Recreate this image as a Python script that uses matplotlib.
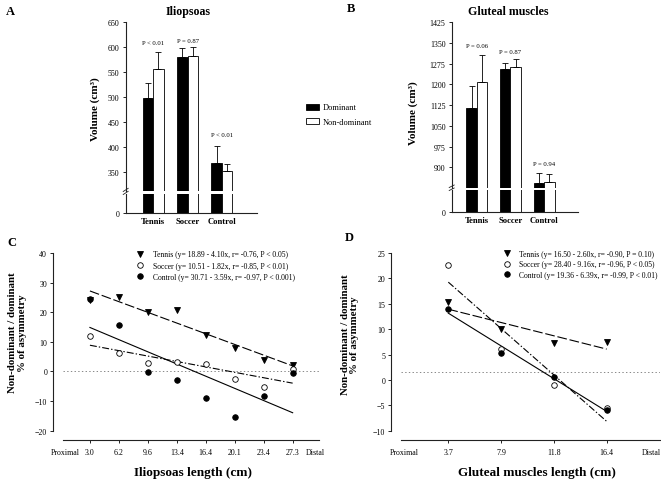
import matplotlib
matplotlib.use('Agg')
import matplotlib.pyplot as plt
import numpy as np
from matplotlib.patches import Patch
from matplotlib.lines import Line2D

plt.rcParams['font.family'] = ['Liberation Serif', 'DejaVu Serif']
plt.rcParams['lines.scale_dashes'] = False

W, H = 661, 481
def fx(px): return px / W
def fy(py): return 1 - py / H

# ---------------- data ----------------
groups = ['Tennis', 'Soccer', 'Control']
ilio_dom = [497, 581, 367]
ilio_dom_err = [30, 17, 35]
ilio_non = [556, 582, 352]
ilio_non_err = [34, 18, 14]
ilio_p = ['P < 0.01', 'P = 0.87', 'P < 0.01']
ilio_p_y = [610, 613, 425]
ilio_yticks = [350, 400, 450, 500, 550, 600, 650]

glut_dom = [1115, 1256, 843]
glut_dom_err = [78, 22, 36]
glut_non = [1208, 1262, 847]
glut_non_err = [100, 30, 29]
glut_p = ['P = 0.06', 'P = 0.87', 'P = 0.94']
glut_p_y = [1340, 1320, 912]
glut_yticks = [900, 975, 1050, 1125, 1200, 1275, 1350, 1425]

ilio_len = ['3.0', '6.2', '9.6', '13.4', '16.4', '20.1', '23.4', '27.3']
ilio_tennis = [24.0, 25.1, 20.0, 20.9, 12.2, 8.0, 4.0, 2.1]
ilio_soccer = [11.9, 6.4, 2.9, 3.2, 2.4, -2.7, -5.2, 0.75]
ilio_control = [24.4, 15.6, -0.1, -3.0, -9.1, -15.3, -8.3, -0.5]
ilio_labels = ['Tennis (y= 18.89 - 4.10x, r= -0.76, P < 0.05)',
               'Soccer (y= 10.51 - 1.82x, r= -0.85, P < 0.01)',
               'Control (y= 30.71 - 3.59x, r= -0.97, P < 0.001)']

glut_len = ['3.7', '7.9', '11.8', '16.4']
glut_tennis = [15.3, 10.0, 7.2, 7.5]
glut_soccer = [22.6, 6.1, -1.0, -5.5]
glut_control = [14.0, 5.3, 0.5, -5.9]
glut_labels = ['Tennis (y= 16.50 - 2.60x, r= -0.90, P = 0.10)',
               'Soccer (y= 28.40 - 9.16x, r= -0.96, P < 0.05)',
               'Control (y= 19.36 - 6.39x, r= -0.99, P < 0.01)']

fig = plt.figure(figsize=(W / 100, H / 100), dpi=100)

TICK_FS = 5.7
SPINE_C = '#222222'

def bar_panel(left, right, top, brk_top, brk_bot, bottom, ylim_top, ylim_bot,
              xlim, dom, dom_err, non, non_err, ptxt, py, yticks):
    axT = fig.add_axes([fx(left), fy(brk_top), fx(right) - fx(left), fy(top) - fy(brk_top)])
    axB = fig.add_axes([fx(left), fy(bottom), fx(right) - fx(left), fy(brk_bot) - fy(bottom)])
    x = np.arange(len(groups))
    w = 0.305
    for ax in (axT, axB):
        ax.bar(x - w / 2, dom, w, color='black', edgecolor='black', linewidth=0.6)
        ax.bar(x + w / 2, non, w, color='white', edgecolor='black', linewidth=0.6)
        ax.set_xlim(*xlim)
        for s in ('top', 'right'):
            ax.spines[s].set_visible(False)
        ax.spines['left'].set_color(SPINE_C)
        ax.spines['left'].set_linewidth(0.8)
        ax.tick_params(axis='y', length=2.5, width=0.6, labelsize=TICK_FS, pad=2)
    axT.errorbar(x - w / 2, dom, yerr=[np.zeros(3), dom_err], fmt='none', ecolor='black',
                 elinewidth=0.6, capsize=2.2, capthick=0.6)
    axT.errorbar(x + w / 2, non, yerr=[np.zeros(3), non_err], fmt='none', ecolor='black',
                 elinewidth=0.6, capsize=2.2, capthick=0.6)
    axT.set_ylim(*ylim_top)
    axT.set_yticks(yticks)
    axT.spines['bottom'].set_visible(False)
    axT.set_xticks([])
    for xi, t, yy in zip(x, ptxt, py):
        axT.text(xi, yy, t, ha='center', va='center', fontsize=4.8)
    axB.set_ylim(*ylim_bot)
    axB.set_yticks([0])
    axB.spines['bottom'].set_color(SPINE_C)
    axB.spines['bottom'].set_linewidth(0.8)
    axB.set_xticks(x)
    axB.set_xticklabels(groups, fontweight='bold', fontsize=6.2)
    axB.tick_params(axis='x', length=0, pad=3)
    # break marks
    for dy in (0, 3):
        fig.add_artist(Line2D([fx(left - 2.5), fx(left + 2.5)],
                              [fy(brk_bot - 0.5 + dy - 2), fy(brk_top - 1 + dy - 2)],
                              color=SPINE_C, lw=0.6))
    return axT, axB

bar_panel(125.7, 257, 23.3, 192.3, 195, 214.3, (310.2, 650), (0, 39),
          (-0.80, 3.02), ilio_dom, ilio_dom_err, ilio_non, ilio_non_err,
          ilio_p, ilio_p_y, ilio_yticks)
bar_panel(451.7, 578, 23.3, 189, 191, 213.3, (825, 1425), (0, 81),
          (-0.74, 3.0), glut_dom, glut_dom_err, glut_non, glut_non_err,
          glut_p, glut_p_y, glut_yticks)

fig.text(fx(188.3), fy(12.3), 'Iliopsoas', ha='center', va='center', fontsize=8.6, fontweight='bold')
fig.text(fx(508.3), fy(12.3), 'Gluteal muscles', ha='center', va='center', fontsize=8.6, fontweight='bold')
fig.text(fx(95), fy(109), 'Volume (cm³)', rotation=90, ha='center', va='center', fontsize=8, fontweight='bold')
fig.text(fx(413.3), fy(113), 'Volume (cm³)', rotation=90, ha='center', va='center', fontsize=8, fontweight='bold')
for lab, (px, py) in zip('ABCD', [(10, 12.3), (351, 8.5), (11.7, 243), (349, 238)]):
    fig.text(fx(px), fy(py), lab, ha='center', va='center', fontsize=9, fontweight='bold')

fig.legend(handles=[Patch(facecolor='black', edgecolor='black', linewidth=0.6, label='Dominant'),
                    Patch(facecolor='white', edgecolor='black', linewidth=0.6, label='Non-dominant')],
           loc='upper left', bbox_to_anchor=(fx(305.7), fy(104.5)), bbox_transform=fig.transFigure,
           frameon=False, fontsize=6, handlelength=1.55, handleheight=0.75, handletextpad=0.45,
           labelspacing=0.75, borderpad=0, borderaxespad=0)

def line_panel(left, right, top, bottom, xlim, ylim, yticks, labels_x, tennis, soccer, control,
               leg_labels, hline, prox_x, dist_x, leg_anchor, leg_spacing):
    ax = fig.add_axes([fx(left), fy(bottom), fx(right) - fx(left), fy(top) - fy(bottom)])
    x = np.arange(1, len(labels_x) + 1)
    ax.axhline(hline, ls=':', color='#888888', lw=0.7)
    styles = [(tennis, dict(marker='v', mfc='black', mec='black'), (0, (7, 2))),
              (soccer, dict(marker='o', mfc='white', mec='black'), (0, (5, 1.5, 1, 1.5))),
              (control, dict(marker='o', mfc='black', mec='black'), '-')]
    handles = []
    for (yv, mk, ls), lab in zip(styles, leg_labels):
        coef = np.polyfit(x, yv, 1)
        xs = np.array([x[0], x[-1]])
        ax.plot(xs, np.polyval(coef, xs), color='black', lw=0.8, ls=ls)
    for (yv, mk, ls), lab in zip(styles, leg_labels):
        h, = ax.plot(x, yv, ls='none', ms=4, mew=0.6, label=lab, **mk)
        handles.append(h)
    ax.set_xlim(*xlim)
    ax.set_ylim(*ylim)
    ax.set_yticks(yticks)
    ax.set_xticks(x)
    ax.set_xticklabels(labels_x)
    ax.set_xticks([prox_x, dist_x], ['Proximal', 'Distal'], minor=True)
    for lbl in ax.get_xticklabels(minor=True):
        lbl.set_fontweight('bold')
    ax.tick_params(axis='x', which='minor', length=0, labelsize=TICK_FS, pad=5.6)
    ax.tick_params(axis='x', which='major', length=2.5, width=0.6, labelsize=TICK_FS, pad=3)
    ax.tick_params(axis='y', length=2.5, width=0.6, labelsize=TICK_FS, pad=2)
    for s in ('top', 'right'):
        ax.spines[s].set_visible(False)
    for s in ('left', 'bottom'):
        ax.spines[s].set_position(('outward', 6.7))
        ax.spines[s].set_color(SPINE_C)
        ax.spines[s].set_linewidth(0.8)
    ax.legend(handles=handles, loc='upper left', bbox_to_anchor=leg_anchor,
              bbox_transform=fig.transFigure, frameon=False, fontsize=5.5,
              handlelength=1.0, handletextpad=1.15, labelspacing=leg_spacing,
              borderpad=0, borderaxespad=0)
    return ax

line_panel(62.7, 319, 254, 431.7, (0.06, 8.91), (-20, 40), [-20, -10, 0, 10, 20, 30, 40],
           ilio_len, ilio_tennis, ilio_soccer, ilio_control, ilio_labels, 0,
           0.16, 8.77, (fx(136.2), fy(251.5)), 0.42)
line_panel(400.7, 660, 254, 431.7, (0.098, 5.01), (-10, 25), [-10, -5, 0, 5, 10, 15, 20, 25],
           glut_len, glut_tennis, glut_soccer, glut_control, glut_labels, 1.5,
           0.16, 4.85, (fx(502.9), fy(251)), 0.3)

fig.text(fx(17.5), fy(333), 'Non-dominant / dominant\n% of asymmetry', rotation=90,
         ha='center', va='center', fontsize=7.8, fontweight='bold', linespacing=1.1)
fig.text(fx(350), fy(335), 'Non-dominant / dominant\n% of asymmetry', rotation=90,
         ha='center', va='center', fontsize=7.8, fontweight='bold', linespacing=1.1)
fig.text(fx(193.3), fy(473), 'Iliopsoas length (cm)', ha='center', va='center', fontsize=9.5, fontweight='bold')
fig.text(fx(536.7), fy(473), 'Gluteal muscles length (cm)', ha='center', va='center', fontsize=9.5, fontweight='bold')

fig.savefig('out.png', dpi=100)
